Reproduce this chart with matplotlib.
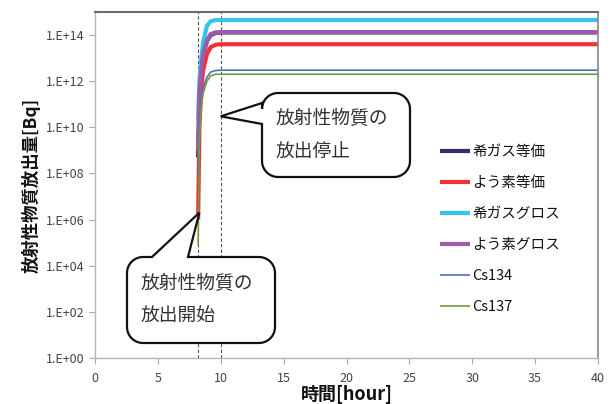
import numpy as np
import matplotlib
matplotlib.use("Agg")
import matplotlib.pyplot as plt
from matplotlib.path import Path
from matplotlib.patches import PathPatch
import matplotlib.transforms as mtransforms
from matplotlib.ticker import FixedLocator, FuncFormatter

plt.rcParams['font.family'] = ['Noto Sans CJK JP', 'DejaVu Sans']

# elapsed time [hour]
hours = [8.2, 8.3, 8.45, 8.6, 8.9, 9.2, 9.6, 10.0, 40.0]

# cumulative release [Bq]
noble_gas_equiv = [5e8, 2e11, 2.5e12, 1.3e13, 5.5e13, 1.0e14, 1.25e14, 1.3e14, 1.3e14]
iodine_equiv    = [1e6, 1e10, 5e11, 3e12, 1.5e13, 3e13, 3.8e13, 4e13, 4e13]
noble_gas_gross = [2e10, 1e12, 1e13, 5e13, 2.5e14, 4e14, 4.5e14, 4.5e14, 4.5e14]
iodine_gross    = [1e9, 3e11, 3e12, 1.5e13, 6e13, 1.1e14, 1.3e14, 1.35e14, 1.35e14]
cs134           = [1e8, 1e10, 1.5e11, 5e11, 1.5e12, 2.5e12, 2.9e12, 3e12, 3e12]
cs137           = [8e4, 3e9, 8e10, 3e11, 1e12, 1.7e12, 2e12, 2e12, 2e12]

series_labels = ["希ガス等価", "よう素等価", "希ガスグロス", "よう素グロス", "Cs134", "Cs137"]
release_start = 8.2
release_stop = 10.0

x_ticks = [0, 5, 10, 15, 20, 25, 30, 35, 40]
y_ticks = [1e0, 1e2, 1e4, 1e6, 1e8, 1e10, 1e12, 1e14]

W, H = 616, 404
fig = plt.figure(figsize=(W / 100, H / 100), dpi=100)
ax = fig.add_axes([95 / W, 1 - 358 / H, (598 - 95) / W, (358 - 12) / H])

styles = [
    dict(color="#2f2c70", lw=3.0),
    dict(color="#ee3235", lw=3.0),
    dict(color="#35c4ec", lw=3.0),
    dict(color="#a15aa8", lw=3.0),
    dict(color="#4a72b6", lw=1.2),
    dict(color="#74983e", lw=1.2),
]
data = [noble_gas_equiv, iodine_equiv, noble_gas_gross, iodine_gross, cs134, cs137]
for vals, lab, st in zip(data, series_labels, styles):
    ax.plot(hours, vals, label=lab, solid_capstyle="butt", **st)

ax.set_yscale("log")
ax.set_xlim(0, 40)
ax.set_ylim(1e0, 1e15)

for t in (release_start, release_stop):
    ax.axvline(t, color="#555555", lw=0.8, ls=(0, (3, 2)), zorder=1)

ax.xaxis.set_major_locator(FixedLocator(x_ticks))
ax.yaxis.set_major_locator(FixedLocator(y_ticks))
ax.yaxis.set_minor_locator(FixedLocator([]))
ax.yaxis.set_major_formatter(FuncFormatter(lambda v, p: "1.E+%02d" % int(round(np.log10(v)))))
ax.tick_params(axis="both", which="major", direction="out", length=4, width=0.8,
               color="#aaaaaa", labelcolor="#444444", labelsize=9)
ax.tick_params(axis="x", pad=6)

for side in ("left", "bottom"):
    ax.spines[side].set_color("#b5b5b5")
    ax.spines[side].set_linewidth(1.0)
ax.spines["top"].set_color("#6a6a6a")
ax.spines["top"].set_linewidth(1.5)
ax.spines["right"].set_color("#888888")
ax.spines["right"].set_linewidth(1.2)

ax.set_xlabel("時間[hour]", fontsize=13, fontweight="bold", labelpad=0, color="#111111")
ax.set_ylabel("放射性物質放出量[Bq]", fontsize=12.5, fontweight="bold", labelpad=4, color="#111111")

leg = ax.legend(loc="upper left", bbox_to_anchor=(427 / W, 1 - 132 / H),
                bbox_transform=fig.transFigure, frameon=False, fontsize=10.5,
                handlelength=2.05, handletextpad=0.15, labelspacing=1.16)
for txt in leg.get_texts():
    txt.set_color("#111111")


def callout(x0, y0, x1, y1, r, side, b0, b1, tip):
    """Rounded box (top-left pixel coords) with a pointed wedge toward tip (display coords)."""
    def arc(cx, cy, a0, a1, n=12):
        a = np.radians(np.linspace(a0, a1, n))
        return [(cx + r * np.cos(t), cy + r * np.sin(t)) for t in a]

    tip_px = (tip[0], H - tip[1])
    pts = []
    pts += arc(x0 + r, y0 + r, 180, 270)
    if side == "top":
        pts += [(b0, y0), tip_px, (b1, y0)]
    pts += arc(x1 - r, y0 + r, 270, 360)
    pts += arc(x1 - r, y1 - r, 0, 90)
    pts += arc(x0 + r, y1 - r, 90, 180)
    if side == "left":
        pts += [(x0, b1), tip_px, (x0, b0)]
    pts.append(pts[0])
    verts = [(px, H - py) for px, py in pts]
    codes = [Path.MOVETO] + [Path.LINETO] * (len(verts) - 2) + [Path.CLOSEPOLY]
    patch = PathPatch(Path(verts, codes), facecolor="white", edgecolor="#111111",
                      lw=1.6, transform=mtransforms.IdentityTransform(),
                      clip_on=False, zorder=5, joinstyle="miter")
    ax.add_patch(patch)


tip_stop = ax.transData.transform((release_stop, 3e10))
tip_start = ax.transData.transform((8.3, 2e6))
callout(262, 93, 410, 177, 16, "left", 103, 124, tip_stop)
callout(127, 257, 275, 343, 16, "top", 152, 188, tip_start)

to_px = mtransforms.Affine2D().scale(1 / W, -1 / H).translate(0, 1) + fig.transFigure
for x, y, s in [(276, 118, "放射性物質の"), (276, 151, "放出停止"),
                (141, 283, "放射性物質の"), (141, 315, "放出開始")]:
    fig.text(x, y, s, transform=to_px, fontsize=13.5, color="#333333",
             ha="left", va="center", zorder=6)

fig.savefig("out.png", dpi=100)
